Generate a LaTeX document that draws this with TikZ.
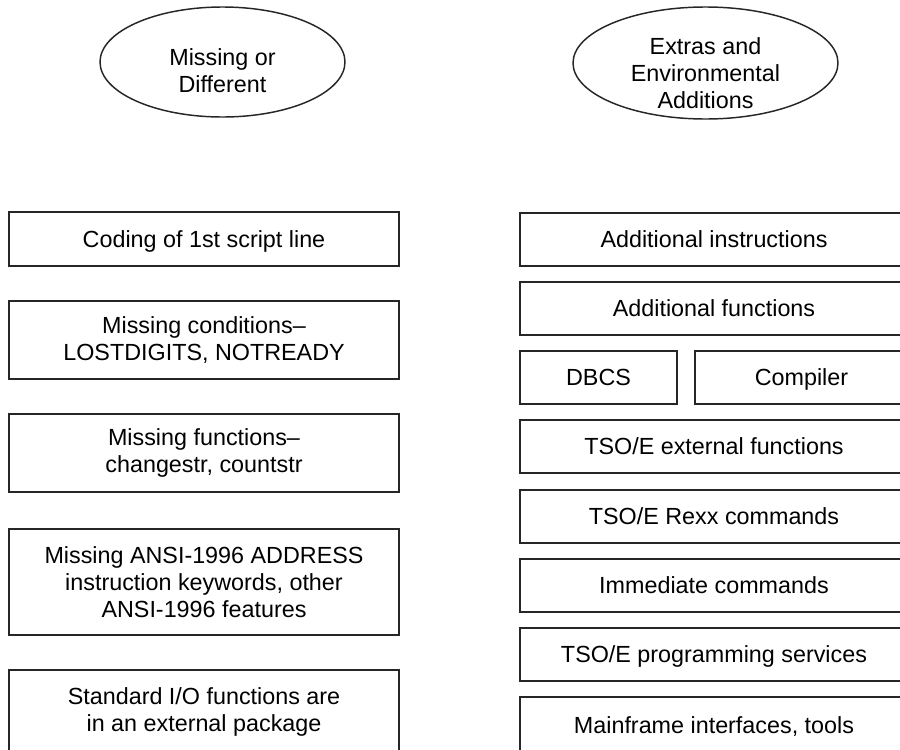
\documentclass[tikz,border=0pt]{standalone}
\usepackage{fontspec}
\setmainfont{Liberation Sans}
\usetikzlibrary{shapes.geometric}
\tikzset{
  base/.style={draw=black!85, line width=1.1pt, inner sep=0pt, outer sep=0pt,
    font=\fontsize{17.5}{20.3}\selectfont, align=center, text=black},
  box/.style 2 args={base, rectangle, minimum width=#1*0.75pt, minimum height=#2*0.75pt},
  single/.style={text height=12.6pt, text depth=0pt},
  oval/.style 2 args={base, ellipse, minimum width=#1*0.75pt, minimum height=#2*0.75pt},
  lbl/.style={inner sep=0pt, font=\fontsize{17.5}{20.3}\selectfont, align=center, text=black}
}
\begin{document}
\begin{tikzpicture}[x=0.75pt,y=-0.75pt]
\useasboundingbox (0,0) rectangle (900,750);
\clip (0,0) rectangle (900,750);
% ellipses
\node[oval={245}{110}] (e1) at (222.5,62) {};
\node[lbl] (t1) at (222.5,71) {Missing or\\Different};
\node[oval={265}{112}] (e2) at (705.5,63) {};
\node[lbl] (t2) at (705.5,73) {Extras and\\Environmental\\Additions};
% left column
\node[box={390}{54}, single] (l1) at (204,239) {Coding of 1st script line};
\node[box={390}{78}] (l2) at (204,340) {Missing conditions--\\LOSTDIGITS, NOTREADY};
\node[box={390}{78}] (l3) at (204,453) {Missing functions--\\changestr, countstr};
\node[box={390}{106}] (l4) at (204,582) {Missing ANSI-1996 ADDRESS\\instruction keywords, other\\ANSI-1996 features};
\node[box={390}{84}] (l5) at (204,712) {Standard I/O functions are\\in an external package};
% right column
\node[box={388}{53}, single] (r1) at (714,239.5) {Additional instructions};
\node[box={388}{53}, single] (r2) at (714,308.5) {Additional functions};
\node[box={157}{53}, single] (r3a) at (598.5,377.5) {DBCS};
\node[box={213}{53}, single] (r3b) at (801.5,377.5) {Compiler};
\node[box={388}{53}, single] (r4) at (714,446.5) {TSO/E external functions};
\node[box={388}{53}, single] (r5) at (714,516.5) {TSO/E Rexx commands};
\node[box={388}{53}, single] (r6) at (714,585.5) {Immediate commands};
\node[box={388}{53}, single] (r7) at (714,654.5) {TSO/E programming services};
\node[box={388}{57}, single] (r8) at (714,725.5) {Mainframe interfaces, tools};
\end{tikzpicture}
\end{document}
